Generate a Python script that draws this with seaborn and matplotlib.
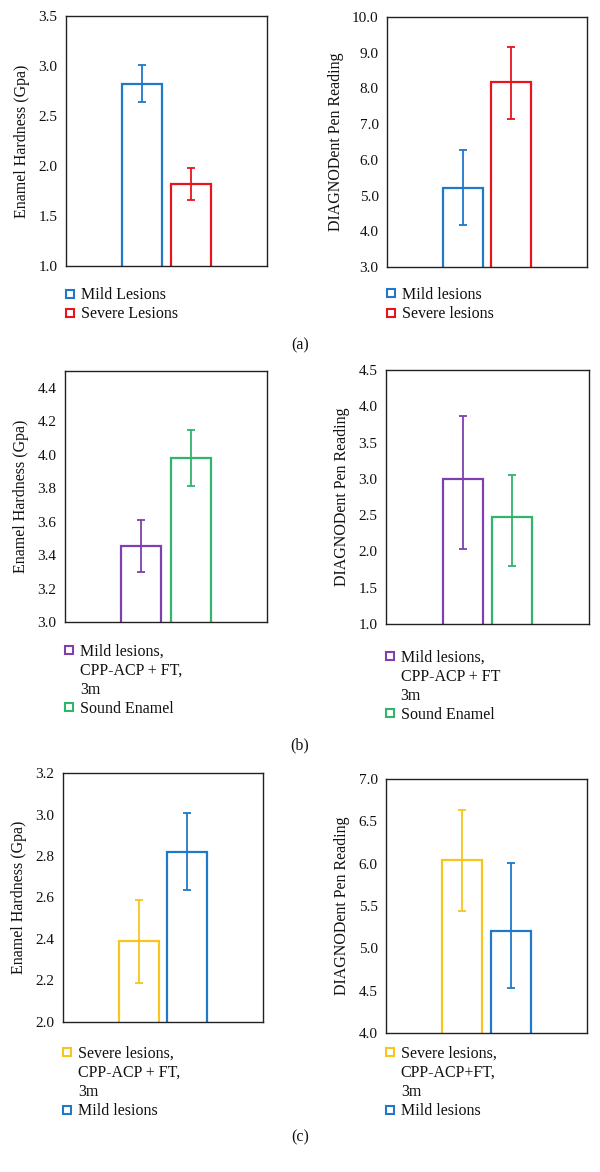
import matplotlib
matplotlib.use("Agg")
import matplotlib.pyplot as plt
import seaborn as sns
import pandas as pd
from matplotlib.lines import Line2D
from matplotlib.ticker import FormatStrFormatter

sns.set_theme(style="white")
plt.rcParams['font.family'] = ['Liberation Serif', 'DejaVu Serif']

# ---------------- data ----------------
# panel (a)
a_left_labels = ["Mild Lesions", "Severe Lesions"]
a_left_values = [2.82, 1.82]
a_left_err_lo = [2.64, 1.66]
a_left_err_hi = [3.01, 1.98]

a_right_labels = ["Mild lesions", "Severe lesions"]
a_right_values = [5.20, 8.18]
a_right_err_lo = [4.17, 7.15]
a_right_err_hi = [6.28, 9.15]

# panel (b)
b_left_labels = ["Mild lesions,\nCPP-ACP + FT,\n3m", "Sound Enamel"]
b_left_values = [3.455, 3.98]
b_left_err_lo = [3.30, 3.81]
b_left_err_hi = [3.61, 4.15]

b_right_labels = ["Mild lesions,\nCPP-ACP + FT\n3m", "Sound Enamel"]
b_right_values = [3.00, 2.48]
b_right_err_lo = [2.04, 1.80]
b_right_err_hi = [3.86, 3.05]

# panel (c)
c_left_labels = ["Severe lesions,\nCPP-ACP + FT,\n3m", "Mild lesions"]
c_left_values = [2.39, 2.82]
c_left_err_lo = [2.19, 2.635]
c_left_err_hi = [2.59, 3.005]

c_right_labels = ["Severe lesions,\nCPP-ACP+FT,\n3m", "Mild lesions"]
c_right_values = [6.04, 5.21]
c_right_err_lo = [5.44, 4.53]
c_right_err_hi = [6.63, 6.01]

hard_label = "Enamel Hardness (Gpa)"
pen_label = "DIAGNODent Pen Reading"
panel_tags = ["(a)", "(b)", "(c)"]

BLUE = "#1f78c8"
RED = "#e8141c"
PURPLE = "#7f3fae"
GREEN = "#2fb56c"
YELLOW = "#f7c51e"

W, H = 600, 1172
fig = plt.figure(figsize=(W / 100, H / 100), dpi=100)


def box(x0, y0, x1, y1):
    return [x0 / W, 1 - y1 / H, (x1 - x0) / W, (y1 - y0) / H]


def panel(rect, labels, values, lo, hi, colors, ylim, yticks, ylabel, leg_y):
    ax = fig.add_axes(rect)
    df = pd.DataFrame({"group": labels, "value": values})
    sns.barplot(data=df, x="group", y="value", hue="group", palette=colors,
                fill=False, width=0.816, linewidth=1.6, errorbar=None,
                legend=False, ax=ax)
    for i, (v, l, h, c) in enumerate(zip(values, lo, hi, colors)):
        ax.errorbar([i], [v], yerr=[[v - l], [h - v]], color=c, lw=1.3,
                    capsize=3.0, capthick=1.3, fmt="none")
    ax.set_xlim(-1.55, 2.55)
    ax.set_ylim(*ylim)
    ax.set_yticks(yticks)
    ax.yaxis.set_major_formatter(FormatStrFormatter("%.1f"))
    ax.set_xticks([])
    ax.set_xlabel("")
    ax.set_ylabel(ylabel, fontsize=11.5, labelpad=6, color="#111111")
    ax.tick_params(axis="y", length=0, pad=6, labelsize=11, colors="#111111")
    for s in ax.spines.values():
        s.set_color("#222222")
        s.set_linewidth(1.0)
        s.set_visible(True)
    # legend: marker at the first line of each entry
    handles, texts = [], []
    for lab, c in zip(labels, colors):
        parts = lab.split("\n")
        for j, p in enumerate(parts):
            if j == 0:
                handles.append(Line2D([], [], ls="none", marker="s", markersize=6,
                                      mfc="white", mec=c, mew=1.5))
            else:
                handles.append(Line2D([], [], ls="none", marker="none"))
            texts.append(p)
    leg = ax.legend(handles, texts, loc="upper left", bbox_to_anchor=(-0.01, leg_y),
                    frameon=False, fontsize=11.5, handlelength=0.8, handletextpad=0.25,
                    labelspacing=0.2, borderpad=0, borderaxespad=0)
    for t in leg.get_texts():
        t.set_color("#111111")
    return ax


panel(box(66, 16, 267, 266), a_left_labels, a_left_values, a_left_err_lo, a_left_err_hi,
      [BLUE, RED], (1.0, 3.5), [1.0, 1.5, 2.0, 2.5, 3.0, 3.5], hard_label, -0.085)
panel(box(387, 17, 587, 267), a_right_labels, a_right_values, a_right_err_lo, a_right_err_hi,
      [BLUE, RED], (3.0, 10.0), [3, 4, 5, 6, 7, 8, 9, 10], pen_label, -0.08)
panel(box(65, 371, 267, 622), b_left_labels, b_left_values, b_left_err_lo, b_left_err_hi,
      [PURPLE, GREEN], (3.0, 4.5), [3.0, 3.2, 3.4, 3.6, 3.8, 4.0, 4.2, 4.4], hard_label, -0.085)
panel(box(386, 370, 589, 624), b_right_labels, b_right_values, b_right_err_lo, b_right_err_hi,
      [PURPLE, GREEN], (1.0, 4.5), [1.0, 1.5, 2.0, 2.5, 3.0, 3.5, 4.0, 4.5], pen_label, -0.1)
panel(box(63, 773, 263, 1022), c_left_labels, c_left_values, c_left_err_lo, c_left_err_hi,
      [YELLOW, BLUE], (2.0, 3.2), [2.0, 2.2, 2.4, 2.6, 2.8, 3.0, 3.2], hard_label, -0.095)
panel(box(386, 779, 587, 1033), c_right_labels, c_right_values, c_right_err_lo, c_right_err_hi,
      [YELLOW, BLUE], (4.0, 7.0), [4.0, 4.5, 5.0, 5.5, 6.0, 6.5, 7.0], pen_label, -0.05)

for tag, y in zip(panel_tags, [345, 745, 1137]):
    fig.text(300 / W, 1 - y / H, tag, ha="center", va="center", fontsize=11.5,
             color="#111111")

fig.savefig("out.png", dpi=100)
